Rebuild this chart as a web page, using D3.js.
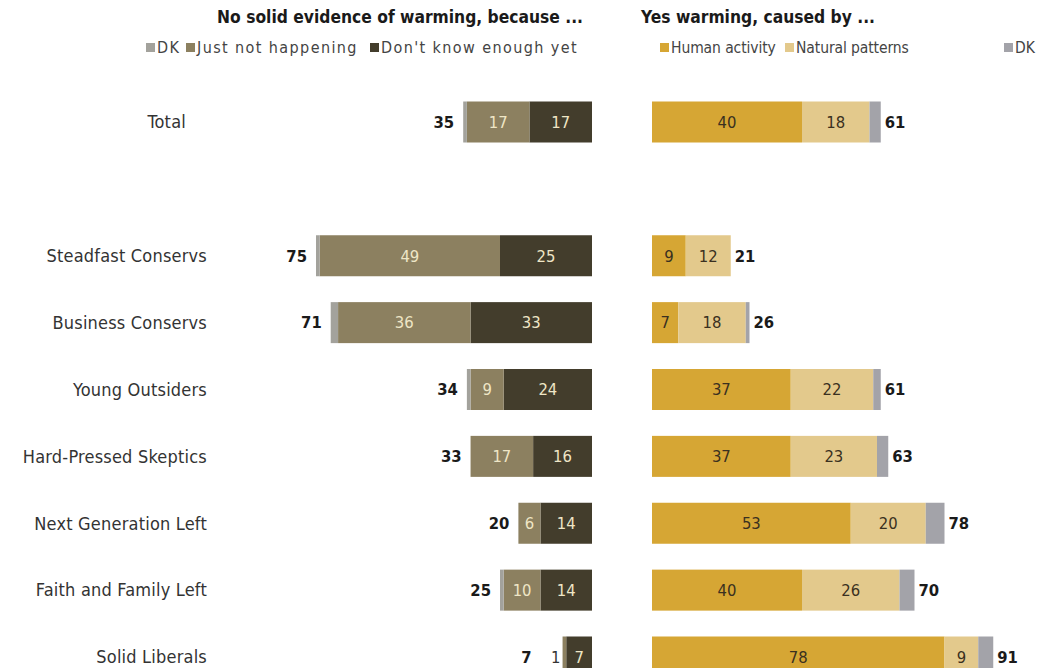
<!DOCTYPE html>
<html>
<head>
<meta charset="utf-8">
<script src="https://cdn.jsdelivr.net/npm/d3@7"></script>
<style>
  html, body { margin: 0; padding: 0; background: #fff; }
  svg { display: block; }
  text { font-family: "Liberation Sans Narrow", "DejaVu Sans Condensed", "Arial Narrow", sans-serif; }
</style>
</head>
<body>
<svg id="chart" width="1051" height="668"></svg>
<script>
// Row labels (blank entry leaves a gap after Total)
const groups = ["Total", "", "Steadfast Conservs", "Business Conservs", "Young Outsiders",
  "Hard-Pressed Skeptics", "Next Generation Left", "Faith and Family Left", "Solid Liberals"];
const rows = groups.filter(g => g !== "");

// No solid evidence of warming, because ...
const noDK        = [1, 1, 2, 1, 0, 0, 1, 0];
const noNotHappen = [17, 49, 36, 9, 17, 6, 10, 1];
const noDontKnow  = [17, 25, 33, 24, 16, 14, 14, 7];
const noTotal     = [35, 75, 71, 34, 33, 20, 25, 7];

// Yes warming, caused by ...
const yesHuman   = [40, 9, 7, 37, 37, 53, 40, 78];
const yesNatural = [18, 12, 18, 22, 23, 20, 26, 9];
const yesDK      = [3, 0, 1, 2, 3, 5, 4, 4];
const yesTotal   = [61, 21, 26, 61, 63, 78, 70, 91];

const noKeys = ["DK", "Just not happening", "Don't know enough yet"];
const yesKeys = ["Human activity", "Natural patterns", "DK"];

const noColors = ["#a3a29c", "#8c8060", "#433d2c"];
const yesColors = ["#d6a634", "#e3c98c", "#a3a3a9"];

const svg = d3.select("#chart");

const y = d3.scalePoint().domain(groups).range([122, 657]);
const barH = 41;

// left panel grows leftwards from its right edge, right panel grows rightwards
const leftEdge = 592, rightStart = 652;
const xNo = d3.scaleLinear().domain([0, 100]).range([0, 368]);
const xYes = d3.scaleLinear().domain([0, 100]).range([0, 375]);

// Titles
svg.append("text").attr("x", 583).attr("y", 23).attr("text-anchor", "end")
  .attr("font-size", 17.3).attr("font-weight", "bold").attr("fill", "#1a1a1a")
  .text("No solid evidence of warming, because ...");
svg.append("text").attr("x", 641).attr("y", 23)
  .attr("font-size", 17.3).attr("font-weight", "bold").attr("fill", "#1a1a1a")
  .text("Yes warming, caused by ...");

// Legends: swatch + label at given x offsets
function legend(keys, colors, xs, y0, size, spacing) {
  keys.forEach((k, i) => {
    const it = svg.append("g").attr("transform", `translate(${xs[i]},${y0})`);
    it.append("rect").attr("x", 0).attr("y", -10).attr("width", 9).attr("height", 9).attr("fill", colors[i]);
    it.append("text").attr("x", 11).attr("y", 0).attr("font-size", size)
      .attr("letter-spacing", spacing).attr("fill", "#444").text(k);
  });
}
legend(noKeys, noColors, [146, 186, 370], 53, 16, 1.4);
legend(yesKeys, yesColors, [660, 785, 1004], 53, 15.5, -0.1);

// Row labels
svg.append("g").selectAll("text").data(rows).join("text")
  .attr("x", d => d === "Total" ? 186 : 207)
  .attr("y", d => y(d)).attr("dy", "0.35em")
  .attr("text-anchor", "end").attr("font-size", 18).attr("letter-spacing", 0.2).attr("fill", "#333")
  .text(d => d);

// Stacked bars
const noSeries = [noDK, noNotHappen, noDontKnow];
const yesSeries = [yesHuman, yesNatural, yesDK];

rows.forEach((r, i) => {
  const cy = y(r);
  // left panel: stack from the right edge outward
  let right = leftEdge;
  let outsideShift = 0;
  for (let s = noSeries.length - 1; s >= 0; s--) {
    const v = noSeries[s][i];
    if (!v) continue;
    const w = xNo(v);
    svg.append("rect").attr("x", right - w).attr("y", cy - barH / 2)
      .attr("width", w).attr("height", barH).attr("fill", noColors[s]);
    if (s > 0) {
      if (w >= 18) {
        svg.append("text").attr("x", right - w / 2).attr("y", cy).attr("dy", "0.35em")
          .attr("text-anchor", "middle").attr("font-size", 16.5).attr("fill", "#efe6c6").text(v);
      } else {
        svg.append("text").attr("x", right - w - 2).attr("y", cy).attr("dy", "0.35em")
          .attr("text-anchor", "end").attr("font-size", 16.5).attr("fill", "#333").text(v);
        outsideShift = 22;
      }
    }
    right -= w;
  }
  svg.append("text").attr("x", right - 9 - outsideShift).attr("y", cy).attr("dy", "0.35em")
    .attr("text-anchor", "end").attr("font-size", 16.5).attr("font-weight", "bold").attr("fill", "#1a1a1a")
    .text(noTotal[i]);

  // right panel
  let left = rightStart;
  yesSeries.forEach((ser, s) => {
    const v = ser[i];
    if (!v) return;
    const w = xYes(v);
    svg.append("rect").attr("x", left).attr("y", cy - barH / 2)
      .attr("width", w).attr("height", barH).attr("fill", yesColors[s]);
    if (s < 2) {
      svg.append("text").attr("x", left + w / 2).attr("y", cy).attr("dy", "0.35em")
        .attr("text-anchor", "middle").attr("font-size", 16.5).attr("fill", "#3a3020").text(v);
    }
    left += w;
  });
  svg.append("text").attr("x", left + 4).attr("y", cy).attr("dy", "0.35em")
    .attr("font-size", 16.5).attr("font-weight", "bold").attr("fill", "#1a1a1a")
    .text(yesTotal[i]);
});
</script>
</body>
</html>
